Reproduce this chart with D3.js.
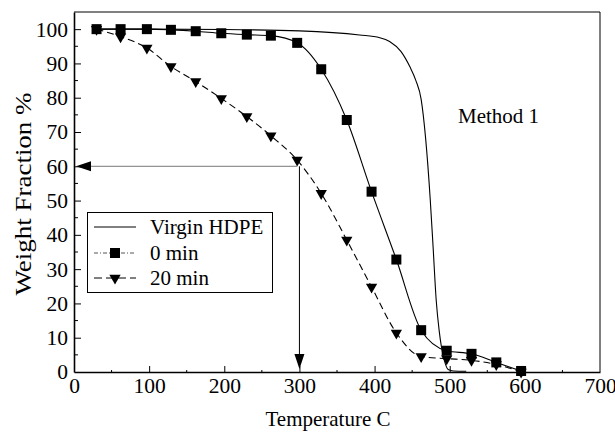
<!DOCTYPE html>
<html>
<head>
<meta charset="utf-8">
<script src="https://cdn.jsdelivr.net/npm/d3@7"></script>
<style>
  body { margin: 0; background: #fff; }
  text { font-family: "Liberation Serif", "DejaVu Serif", serif; fill: #000; }
</style>
</head>
<body>
<svg id="chart"></svg>
<script>
// data
var virginT = [30, 100, 200, 300, 380, 407, 420, 435, 447, 455, 462, 468, 474, 478, 482, 486, 489, 494, 498, 505, 522];
var virginW = [100, 100, 99.9, 99.5, 98.3, 97.5, 96.4, 93.5, 89, 85, 79.5, 68, 50.6, 36, 21, 12, 7.3, 2.5, 0.7, 0.3, 0.2];

var tempPts = [30, 62, 97, 129, 162, 196, 230, 262, 297, 329, 363, 396, 429, 462, 496, 529, 562, 595];
var min0 = [100, 100, 100, 99.8, 99.4, 98.8, 98.4, 98.1, 96, 88.3, 73.5, 52.6, 32.8, 12.2, 6.2, 5.3, 2.8, 0.3];
var min20 = [100, 97.8, 94.5, 89.1, 84.7, 79.8, 74.5, 68.9, 61.8, 52.1, 38.5, 24.8, 11.4, 4.5, 3.9, 3.4, 2.2, 0];

var xTicks = [0, 100, 200, 300, 400, 500, 600, 700];
var yTicks = [0, 10, 20, 30, 40, 50, 60, 70, 80, 90, 100];
var legendNames = ["Virgin HDPE", "0 min", "20 min"];

var svgWidth = 615;
var svgHeight = 434;
var plotL = 74, plotR = 600, plotT = 12, plotB = 372;

var svg = d3.select('#chart')
    .attr("width", svgWidth)
    .attr("height", svgHeight);

var x = d3.scaleLinear().domain([0, 700]).range([plotL, plotR]);
var y = d3.scaleLinear().domain([0, 105]).range([plotB, plotT]);

// frame (top + right)
svg.append("path")
    .attr("d", "M" + plotL + "," + plotT + "H" + plotR + "V" + plotB)
    .attr("fill", "none").attr("stroke", "#000").attr("stroke-width", 1);

// minor ticks
svg.append("g").selectAll("line")
    .data(d3.range(5, 105, 10))
    .enter().append("line")
    .attr("x1", plotL).attr("x2", plotL + 4)
    .attr("y1", function(d) { return y(d); }).attr("y2", function(d) { return y(d); })
    .attr("stroke", "#000");
svg.append("g").selectAll("line")
    .data(d3.range(50, 700, 100))
    .enter().append("line")
    .attr("x1", function(d) { return x(d); }).attr("x2", function(d) { return x(d); })
    .attr("y1", plotB).attr("y2", plotB - 2)
    .attr("stroke", "#000");

// axes with inward ticks
var xAxis = svg.append("g")
    .attr("transform", "translate(0," + plotB + ")")
    .call(d3.axisBottom(x).tickValues(xTicks).tickSizeInner(-6).tickSizeOuter(0).tickPadding(6));
var yAxis = svg.append("g")
    .attr("transform", "translate(" + plotL + ",0)")
    .call(d3.axisLeft(y).tickValues(yTicks).tickSizeInner(-7).tickSizeOuter(0).tickPadding(6));

[xAxis, yAxis].forEach(function(a) {
    a.select(".domain").attr("stroke-width", 1.6);
    a.selectAll("text").style("font-family", "Liberation Serif").style("font-size", "21.5px");
});
xAxis.selectAll(".tick line").filter(function(d) { return d === 0 || d === 700; }).remove();
yAxis.selectAll(".tick line").filter(function(d) { return d === 0; }).remove();

// axis titles
svg.append("text")
    .attr("x", 328).attr("y", 426)
    .attr("text-anchor", "middle")
    .style("font-size", "21px")
    .text("Temperature C");
svg.append("text")
    .attr("transform", "translate(31,194) rotate(-90) scale(1,0.87)")
    .attr("text-anchor", "middle")
    .style("font-size", "27px")
    .text("Weight Fraction %");

svg.append("text")
    .attr("x", 458).attr("y", 123)
    .style("font-size", "21px")
    .text("Method 1");

// reading arrows at 60 % / 300 C
svg.append("line")
    .attr("x1", x(297)).attr("x2", plotL + 12)
    .attr("y1", y(60)).attr("y2", y(60))
    .attr("stroke", "#777").attr("stroke-width", 1);
svg.append("path")
    .attr("d", "M" + (plotL + 2) + "," + y(60) + "L" + (plotL + 17) + "," + (y(60) - 5) + "L" + (plotL + 17) + "," + (y(60) + 5) + "Z")
    .attr("fill", "#000");
svg.append("line")
    .attr("x1", x(300)).attr("x2", x(300))
    .attr("y1", y(60)).attr("y2", plotB - 12)
    .attr("stroke", "#000").attr("stroke-width", 1);
svg.append("path")
    .attr("d", "M" + x(300) + "," + (plotB - 3) + "L" + (x(300) - 5) + "," + (plotB - 18) + "L" + (x(300) + 5) + "," + (plotB - 18) + "Z")
    .attr("fill", "#000");

// curves
var line = d3.line()
    .x(function(d) { return x(d[0]); })
    .y(function(d) { return y(d[1]); })
    .curve(d3.curveMonotoneX);

svg.append("path")
    .attr("d", line(d3.zip(virginT, virginW)))
    .attr("fill", "none").attr("stroke", "#000").attr("stroke-width", 1.1);
svg.append("path")
    .attr("d", line(d3.zip(tempPts, min0)))
    .attr("fill", "none").attr("stroke", "#000").attr("stroke-width", 1.1);
svg.append("path")
    .attr("d", line(d3.zip(tempPts, min20)))
    .attr("fill", "none").attr("stroke", "#000").attr("stroke-width", 1.1)
    .attr("stroke-dasharray", "7,4");

var tri = d3.symbol().type(d3.symbolTriangle).size(55);

svg.append("g").selectAll("path")
    .data(d3.zip(tempPts, min20))
    .enter().append("path")
    .attr("d", tri)
    .attr("transform", function(d) { return "translate(" + x(d[0]) + "," + y(d[1]) + ") rotate(180)"; })
    .attr("fill", "#000");

svg.append("g").selectAll("rect")
    .data(d3.zip(tempPts, min0))
    .enter().append("rect")
    .attr("x", function(d) { return x(d[0]) - 5; })
    .attr("y", function(d) { return y(d[1]) - 5; })
    .attr("width", 10).attr("height", 10)
    .attr("fill", "#000");

// legend
var lg = svg.append("g");
lg.append("rect")
    .attr("x", 87.5).attr("y", 212.5).attr("width", 185).attr("height", 80)
    .attr("fill", "#fff").attr("stroke", "#000").attr("stroke-width", 1);
var rowY = [227, 253, 278];
legendNames.forEach(function(name, i) {
    var ln = lg.append("line")
        .attr("x1", 94).attr("x2", 136)
        .attr("y1", rowY[i]).attr("y2", rowY[i])
        .attr("stroke", i === 1 ? "#555" : "#000").attr("stroke-width", 1);
    if (i === 1) ln.attr("stroke-dasharray", "4,2,1,2");
    if (i === 2) ln.attr("stroke-dasharray", "8,4");
    if (i === 1) {
        lg.append("rect").attr("x", 110).attr("y", rowY[i] - 5).attr("width", 10).attr("height", 10).attr("fill", "#000");
    }
    if (i === 2) {
        lg.append("path").attr("d", tri)
            .attr("transform", "translate(115," + rowY[i] + ") rotate(180)")
            .attr("fill", "#000");
    }
    lg.append("text")
        .attr("x", 150).attr("y", rowY[i] + 7)
        .style("font-size", "21px")
        .text(name);
});
</script>
</body>
</html>
